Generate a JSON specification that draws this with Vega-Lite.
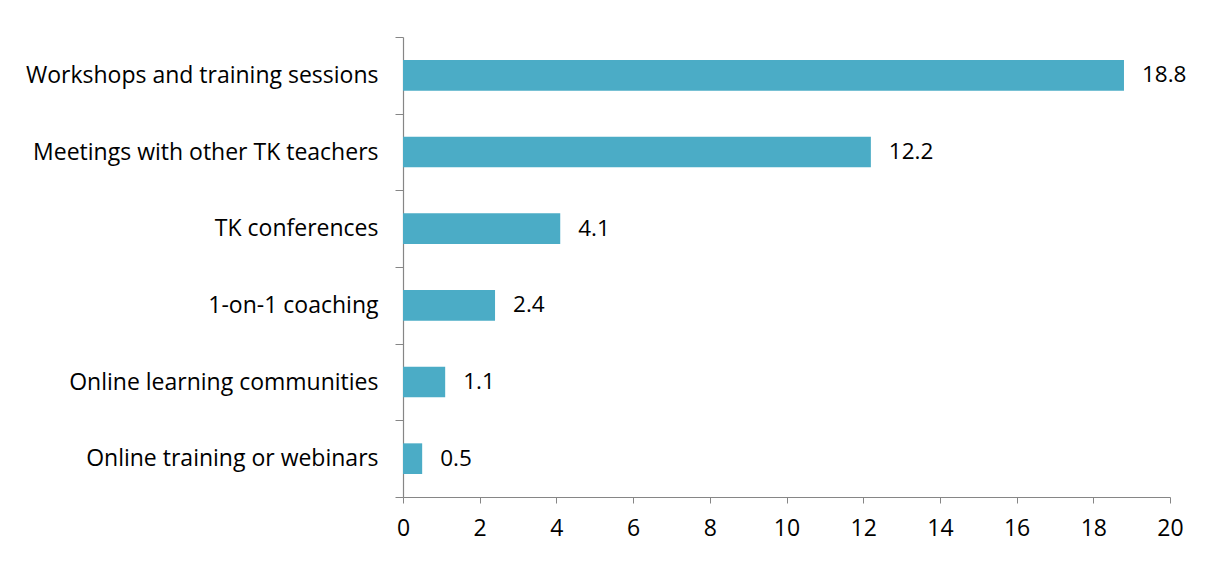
{
  "$schema": "https://vega.github.io/schema/vega-lite/v6.json",
  "width": 767,
  "height": 460,
  "autosize": {"type": "none"},
  "padding": {"left": 403, "top": 37, "right": 37, "bottom": 65},
  "background": "white",
  "config": {
    "view": {"stroke": null},
    "font": "Open Sans",
    "axis": {
      "domainColor": "#868686",
      "tickColor": "#868686",
      "labelColor": "#000000",
      "labelFont": "Open Sans",
      "labelFontSize": 23,
      "grid": false,
      "title": null
    }
  },
  "data": {
    "values": [
      {"type": "Workshops and training sessions", "value": 18.8},
      {"type": "Meetings with other TK teachers", "value": 12.2},
      {"type": "TK conferences", "value": 4.1},
      {"type": "1-on-1 coaching", "value": 2.4},
      {"type": "Online learning communities", "value": 1.1},
      {"type": "Online training or webinars", "value": 0.5}
    ]
  },
  "encoding": {
    "y": {
      "field": "type",
      "type": "nominal",
      "sort": null,
      "scale": {"paddingInner": 0, "paddingOuter": 0},
      "axis": {
        "tickBand": "extent",
        "tickSize": 8,
        "labelPadding": 17,
        "domainWidth": 1.2,
        "labelLimit": 420
      }
    },
    "x": {
      "field": "value",
      "type": "quantitative",
      "scale": {"domain": [0, 20], "nice": false},
      "axis": {
        "values": [0, 2, 4, 6, 8, 10, 12, 14, 16, 18, 20],
        "tickSize": 6,
        "labelPadding": 14,
        "domainWidth": 1.2,
        "labelFlush": false
      }
    }
  },
  "layer": [
    {"mark": {"type": "bar", "color": "#4BACC6", "height": {"band": 0.4}}},
    {
      "mark": {"type": "text", "align": "left", "dx": 18, "fontSize": 22.5, "font": "Open Sans", "color": "#000000"},
      "encoding": {"text": {"field": "value", "type": "quantitative", "format": ".1f"}}
    }
  ]
}
